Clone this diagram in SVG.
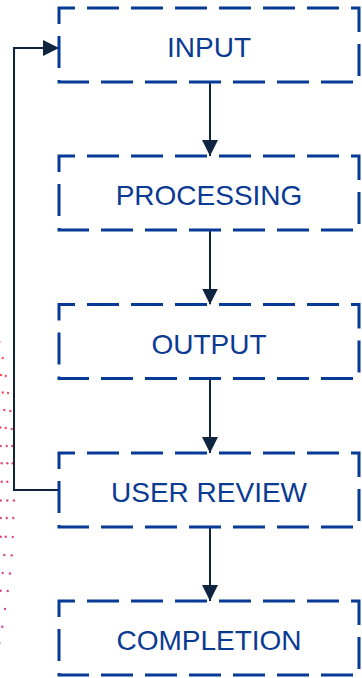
<svg xmlns="http://www.w3.org/2000/svg" width="362" height="678" viewBox="0 0 362 678">
<style>
.box{fill:#ffffff;stroke:#063a96;stroke-width:3;stroke-dasharray:32 12;stroke-dashoffset:16}
.lbl{font-family:"Liberation Sans",Arial,sans-serif;font-size:28px;fill:#0a3a92;text-anchor:middle}
.con{fill:none;stroke:#0f2440;stroke-width:2}
</style>
<defs>
<marker id="ah" viewBox="0 0 16 16" refX="16" refY="8" markerWidth="16" markerHeight="16" markerUnits="userSpaceOnUse" orient="auto">
<path d="M0,0 L16,8 L0,16 Z" fill="#0f2440"/>
</marker>
</defs>
<g id="dots">
<circle cx="0" cy="342" r="1.1" fill="#f2606a" opacity="0.5"/>
<circle cx="2.7" cy="358" r="1.2" fill="#f0545f"/>
<circle cx="1" cy="375" r="1.2" fill="#ef525e"/>
<circle cx="5.7" cy="376" r="1.2" fill="#ef525e"/>
<circle cx="2.7" cy="392.5" r="1.2" fill="#ee5160"/>
<circle cx="8" cy="393" r="1.2" fill="#ee5160"/>
<circle cx="4.3" cy="410" r="1.2" fill="#ec5063"/>
<circle cx="10.3" cy="411" r="1.2" fill="#ec5063"/>
<circle cx="0.3" cy="427.5" r="1.2" fill="#ea4f66"/>
<circle cx="5.7" cy="428" r="1.2" fill="#ea4f66"/>
<circle cx="11.7" cy="429" r="1.2" fill="#ea4f66"/>
<circle cx="0.7" cy="446" r="1.2" fill="#e84e6a"/>
<circle cx="6.7" cy="446" r="1.2" fill="#e84e6a"/>
<circle cx="12.3" cy="446" r="1.2" fill="#e84e6a"/>
<circle cx="1.7" cy="463.3" r="1.2" fill="#e54d6e"/>
<circle cx="7.3" cy="463.3" r="1.2" fill="#e54d6e"/>
<circle cx="12.7" cy="463.3" r="1.2" fill="#e54d6e"/>
<circle cx="1.7" cy="481.7" r="1.2" fill="#e24c73"/>
<circle cx="7.3" cy="481.7" r="1.2" fill="#e24c73"/>
<circle cx="0.7" cy="500.5" r="1.2" fill="#df4b78"/>
<circle cx="7.3" cy="500.5" r="1.2" fill="#df4b78"/>
<circle cx="14" cy="500.5" r="1.2" fill="#df4b78"/>
<circle cx="0.7" cy="518" r="1.2" fill="#dc4a7d"/>
<circle cx="6.7" cy="518" r="1.2" fill="#dc4a7d"/>
<circle cx="13.3" cy="518" r="1.2" fill="#dc4a7d"/>
<circle cx="0.7" cy="536.7" r="1.2" fill="#d94982"/>
<circle cx="5.7" cy="536.7" r="1.2" fill="#d94982"/>
<circle cx="12.7" cy="537" r="1.2" fill="#d94982"/>
<circle cx="4.3" cy="555" r="1.2" fill="#d64886"/>
<circle cx="11.7" cy="555.5" r="1.2" fill="#d64886"/>
<circle cx="2.7" cy="573" r="1.2" fill="#d3488a"/>
<circle cx="10" cy="573.5" r="1.2" fill="#d3488a"/>
<circle cx="0.7" cy="590.7" r="1.2" fill="#d0488e"/>
<circle cx="7.7" cy="591" r="1.2" fill="#d0488e"/>
<circle cx="5" cy="609" r="1.2" fill="#cd4892"/>
<circle cx="2.3" cy="626.7" r="1.2" fill="#cb4895"/>
<circle cx="0" cy="643" r="1.1" fill="#cb4895" opacity="0.5"/>
</g>
<g id="connectors">
<path class="con" d="M210,82 V156" marker-end="url(#ah)"/>
<path class="con" d="M210,230 V304.5" marker-end="url(#ah)"/>
<path class="con" d="M210,378.5 V453" marker-end="url(#ah)"/>
<path class="con" d="M210,527 V601" marker-end="url(#ah)"/>
<path class="con" d="M62,490 H14 V48 H59" marker-end="url(#ah)"/>
</g>
<g id="input">
<rect class="box" x="59" y="8" width="300" height="74"/>
<text class="lbl" x="209" y="57">INPUT</text>
</g>
<g id="processing">
<rect class="box" x="59" y="156" width="300" height="74"/>
<text class="lbl" x="209" y="205">PROCESSING</text>
</g>
<g id="output">
<rect class="box" x="59" y="304.5" width="300" height="74"/>
<text class="lbl" x="209" y="353.5">OUTPUT</text>
</g>
<g id="user-review">
<rect class="box" x="59" y="453" width="300" height="74"/>
<text class="lbl" x="209" y="502">USER REVIEW</text>
</g>
<g id="completion">
<rect class="box" x="59" y="601" width="300" height="74"/>
<text class="lbl" x="209" y="650">COMPLETION</text>
</g>
</svg>
